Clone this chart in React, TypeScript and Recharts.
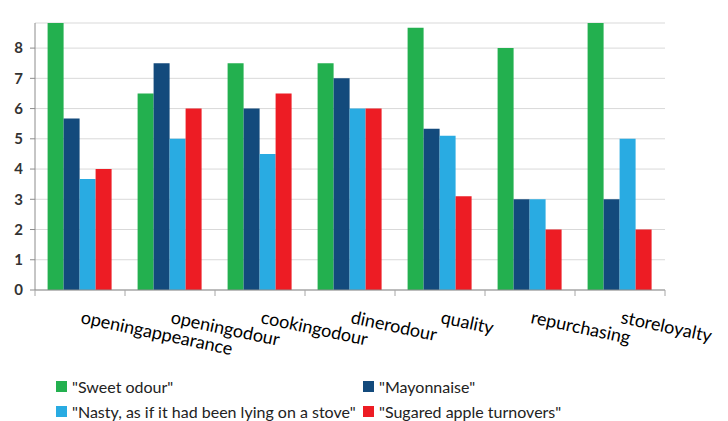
import React from 'react'
import { BarChart, Bar, XAxis, YAxis, CartesianGrid, Legend } from 'recharts'

const categories = [
  'openingappearance',
  'openingodour',
  'cookingodour',
  'dinerodour',
  'quality',
  'repurchasing',
  'storeloyalty',
]

const sweetOdour = [9, 6.5, 7.5, 7.5, 8.67, 8, 9]
const mayonnaise = [5.67, 7.5, 6, 7, 5.33, 3, 3]
const nasty = [3.67, 5, 4.5, 6, 5.1, 3, 5]
const sugared = [4, 6, 6.5, 6, 3.1, 2, 2]

const seriesNames = [
  '"Sweet odour"',
  '"Mayonnaise"',
  '"Nasty, as if it had been lying on a stove"',
  '"Sugared apple turnovers"',
]
const colors = ['#23b04f', '#134a7c', '#29abe2', '#ed1c24']
const yTicks = [0, 1, 2, 3, 4, 5, 6, 7, 8]

const data = categories.map((name, i) => ({
  name,
  s0: sweetOdour[i],
  s1: mayonnaise[i],
  s2: nasty[i],
  s3: sugared[i],
}))

const FONT = 'Lato, "Open Sans", sans-serif'

const CategoryTick = (props: any) => {
  const { x, y, payload, index } = props
  const half = payload.offset || 45
  return (
    <g>
      <line x1={x - half} y1={y} x2={x - half} y2={y + 6} stroke="#a6a6a6" />
      {index === categories.length - 1 && (
        <line x1={x + half} y1={y} x2={x + half} y2={y + 6} stroke="#a6a6a6" />
      )}
      <text
        x={x}
        y={y + 33}
        transform={`rotate(12, ${x}, ${y + 33})`}
        textAnchor="start"
        fontSize={18}
        fontFamily={FONT}
        fill="#000"
      >
        {payload.value}
      </text>
    </g>
  )
}

const LegendBox = ({ payload }: any) => {
  const items = [...(payload || [])].sort(
    (a: any, b: any) => seriesNames.indexOf(a.value) - seriesNames.indexOf(b.value)
  )
  return (
    <div style={{ position: 'relative', height: 50, fontFamily: FONT, fontSize: 16, color: '#222' }}>
      {items.map((item: any, i: number) => (
        <div
          key={item.value}
          style={{
            position: 'absolute',
            left: i % 2 === 0 ? 56 : 363,
            top: i < 2 ? 6 : 31,
            display: 'flex',
            alignItems: 'center',
            whiteSpace: 'nowrap',
          }}
        >
          <span style={{ width: 11, height: 11, background: item.color, marginRight: 5, display: 'inline-block' }} />
          <span>{item.value}</span>
        </div>
      ))}
    </div>
  )
}

const App = () => {
  return (
    <div style={{ position: 'absolute', left: 0, top: 0, background: '#fff' }}>
      <BarChart
        width={728}
        height={421}
        data={data}
        margin={{ top: 23, right: 63, left: 0, bottom: 0 }}
        barCategoryGap="14%"
        barGap={0}
      >
        <CartesianGrid vertical={false} stroke="#d9d9d9" />
        <XAxis
          dataKey="name"
          height={81}
          interval={0}
          tickSize={0}
          tickMargin={0}
          tickLine={false}
          axisLine={{ stroke: '#8c8c8c' }}
          tick={<CategoryTick />}
        />
        <YAxis
          width={35}
          domain={[0, 8.83]}
          allowDataOverflow
          ticks={yTicks}
          tickSize={5}
          tickMargin={7}
          axisLine={{ stroke: '#8c8c8c' }}
          tickLine={{ stroke: '#8c8c8c' }}
          tick={{ fontSize: 15, fontWeight: 700, fill: '#333', fontFamily: FONT }}
        />
        <Legend verticalAlign="bottom" wrapperStyle={{ height: 50 }} content={<LegendBox />} />
        {seriesNames.map((n, i) => (
          <Bar key={n} dataKey={`s${i}`} name={n} fill={colors[i]} isAnimationActive={false} />
        ))}
      </BarChart>
    </div>
  )
}

export default App
